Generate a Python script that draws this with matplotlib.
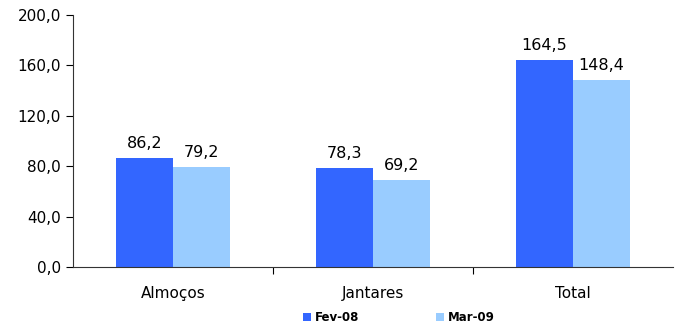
import matplotlib.pyplot as plt
import numpy as np

categories = ["Almoços", "Jantares", "Total"]
fev08 = [86.2, 78.3, 164.5]
mar09 = [79.2, 69.2, 148.4]
series_names = ["Fev-08", "Mar-09"]
yticks = [0, 40, 80, 120, 160, 200]

plt.rcParams['font.family'] = ['DejaVu Sans']

fig = plt.figure(figsize=(6.82, 3.3), dpi=100)
ax = fig.add_axes([0.107, 0.191, 0.880, 0.764])

x = np.arange(len(categories))
w = 0.285
b1 = ax.bar(x - w / 2, fev08, w, color="#3366FF", label=series_names[0])
b2 = ax.bar(x + w / 2, mar09, w, color="#99CCFF", label=series_names[1])

for bars, vals in ((b1, fev08), (b2, mar09)):
    for r, v in zip(bars, vals):
        ax.annotate(f"{v:.1f}".replace(".", ","),
                    (r.get_x() + r.get_width() / 2, v),
                    xytext=(0, 5), textcoords="offset points",
                    ha="center", va="bottom", fontsize=11.5)

ax.set_xlim(-0.5, 2.5)
ax.set_ylim(0, 200)
ax.set_yticks(yticks)
ax.set_yticklabels([f"{t:.1f}".replace(".", ",") for t in yticks], fontsize=11)

# category labels between boundary ticks
ax.set_xticks([0.5, 1.5])
ax.set_xticklabels([])
ax.set_xticks(x, minor=True)
ax.set_xticklabels(categories, minor=True, fontsize=11)
ax.tick_params(axis="x", which="minor", length=0, pad=14)
ax.tick_params(axis="x", which="major", length=5, direction="out")
ax.tick_params(axis="y", length=5, direction="out")

for s in ("top", "right"):
    ax.spines[s].set_visible(False)
ax.spines["left"].set_color("#333333")
ax.spines["bottom"].set_color("#333333")

leg = fig.legend(loc="lower center", bbox_to_anchor=(0.585, -0.015), ncol=2,
                 frameon=False, prop={"weight": "bold", "size": 8.5},
                 handlelength=0.7, handleheight=0.7, handletextpad=0.3,
                 columnspacing=6.5)

fig.savefig("out.png", dpi=100)
